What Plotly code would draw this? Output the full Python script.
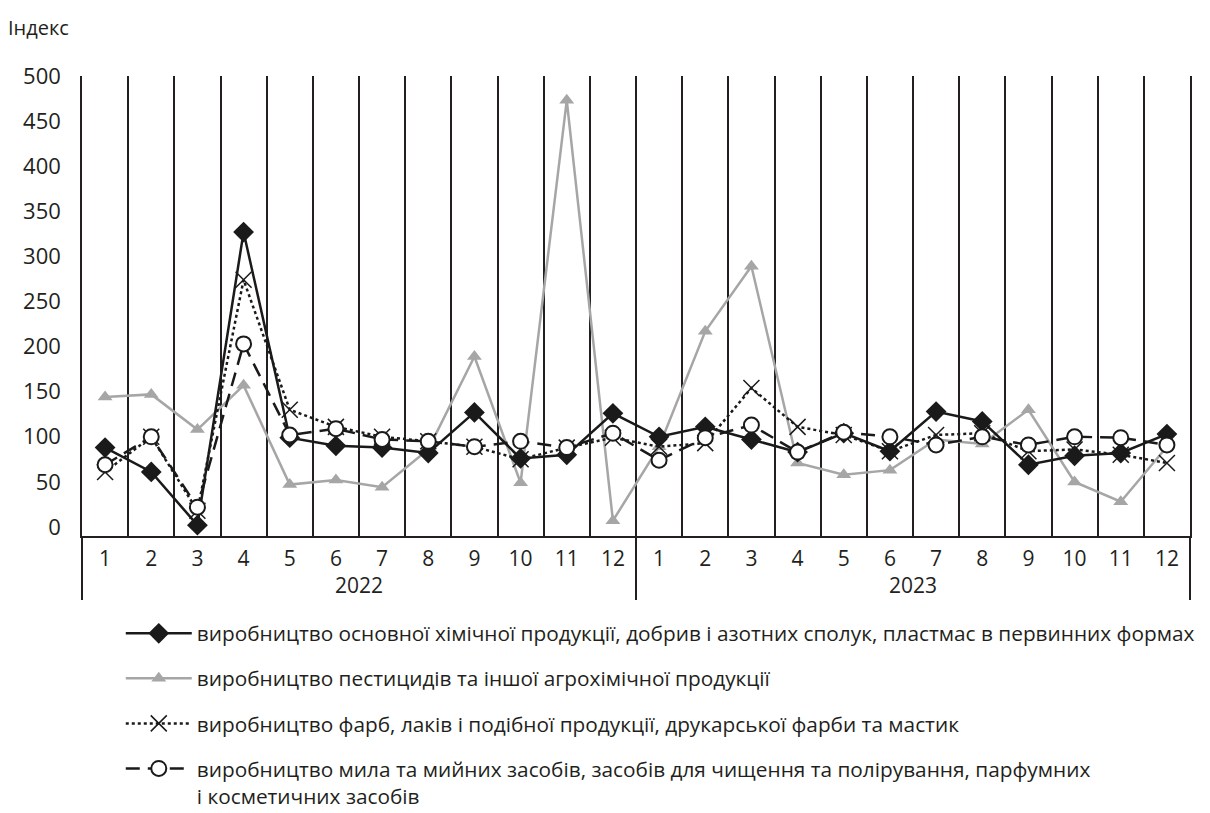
import plotly.graph_objects as go

years = ["2022"] * 12 + ["2023"] * 12
months = [str(m) for m in range(1, 13)] * 2

names = [
    "виробництво основної хімічної продукції, добрив і азотних сполук, пластмас в первинних формах",
    "виробництво пестицидів та іншої агрохімічної продукції",
    "виробництво фарб, лаків і подібної продукції, друкарської фарби та мастик",
    "виробництво мила та мийних засобів, засобів для чищення та полірування, парфумних<br>і косметичних засобів",
]

basic_chem = [88, 61, 2, 327, 99, 90, 88, 82, 127, 76, 80, 126,
              100, 111, 97, 83, 104, 84, 128, 117, 69, 79, 82, 103]
pesticides = [144, 147, 108, 157, 47, 52, 44, 86, 189, 49, 473, 7,
              89, 217, 289, 71, 58, 63, 97, 92, 130, 50, 28, 89]
paints = [61, 100, 18, 274, 130, 111, 100, 95, 89, 75, 88, 99,
          89, 93, 154, 111, 102, 84, 102, 104, 84, 86, 80, 71]
soap = [69, 100, 22, 203, 102, 109, 97, 95, 89, 95, 88, 104,
        74, 99, 113, 83, 105, 100, 91, 100, 91, 100, 99, 91]

x = [years, months]
FONT = "Open Sans"
TXT = "#231f20"

fig = go.Figure()
fig.add_trace(go.Scatter(
    x=x, y=pesticides, name=names[1], legendrank=2, legendgroup="b",
    mode="lines+markers",
    line=dict(color="#a6a6a6", width=2.5),
    marker=dict(symbol="triangle-up", size=13, color="#a6a6a6"),
))
fig.add_trace(go.Scatter(
    x=x, y=basic_chem, name=names[0], legendrank=1, legendgroup="a",
    mode="lines+markers",
    line=dict(color="#1a1a1a", width=2.5),
    marker=dict(symbol="diamond", size=16, color="#1a1a1a"),
))
fig.add_trace(go.Scatter(
    x=x, y=paints, name=names[2], legendrank=3, legendgroup="c",
    mode="lines+markers",
    line=dict(color="#1a1a1a", width=2.5, dash="dot"),
    marker=dict(symbol="x-thin-open", size=16, color="#1a1a1a",
                line=dict(width=1.5, color="#1a1a1a")),
))
fig.add_trace(go.Scatter(
    x=x, y=soap, name=names[3], legendrank=4, legendgroup="d",
    mode="lines+markers",
    line=dict(color="#1a1a1a", width=2.5, dash="14px,8px"),
    marker=dict(symbol="circle", size=15, color="white",
                line=dict(width=2, color="#1a1a1a")),
))

# page body has an 8px margin; compensate so the plot sits at x 82..1190, y 76..536
fig.update_layout(
    width=1210, height=813,
    margin=dict(l=74, r=28, t=68, b=285, autoexpand=False),
    paper_bgcolor="white", plot_bgcolor="white",
    font=dict(family=FONT, size=21, color=TXT),
    showlegend=True,
    legend=dict(
        x=0.035, y=-0.168, xanchor="left", yanchor="top",
        orientation="v", traceorder="grouped", tracegroupgap=15,
        itemwidth=66, valign="top",
        font=dict(family=FONT, size=20.8, color=TXT),
    ),
    xaxis=dict(
        type="multicategory",
        range=[-0.5, 23.5],
        automargin=False,
        tickson="boundaries",
        showgrid=True, gridcolor="#231f20", gridwidth=1.5,
        showline=True, linecolor="#231f20", linewidth=2,
        ticks="", showdividers=True, dividercolor="#231f20", dividerwidth=1.5,
        ticklabelstandoff=3,
        tickfont=dict(family=FONT, size=21, color=TXT),
    ),
    yaxis=dict(
        range=[-10, 500], tickvals=[0, 50, 100, 150, 200, 250, 300, 350, 400, 450, 500],
        automargin=False,
        showgrid=False, zeroline=False,
        showline=True, linecolor="#231f20", linewidth=1.5, mirror=True,
        ticks="", ticklabelstandoff=15,
        tickfont=dict(family=FONT, size=22, color=TXT),
    ),
    annotations=[dict(
        text="Індекс", xref="paper", yref="paper",
        x=(6 - 82) / 1108, y=(536 - 27) / 460,
        xanchor="left", yanchor="middle", showarrow=False,
        font=dict(family=FONT, size=20, color=TXT),
    )],
)

fig.write_html("out.html")
